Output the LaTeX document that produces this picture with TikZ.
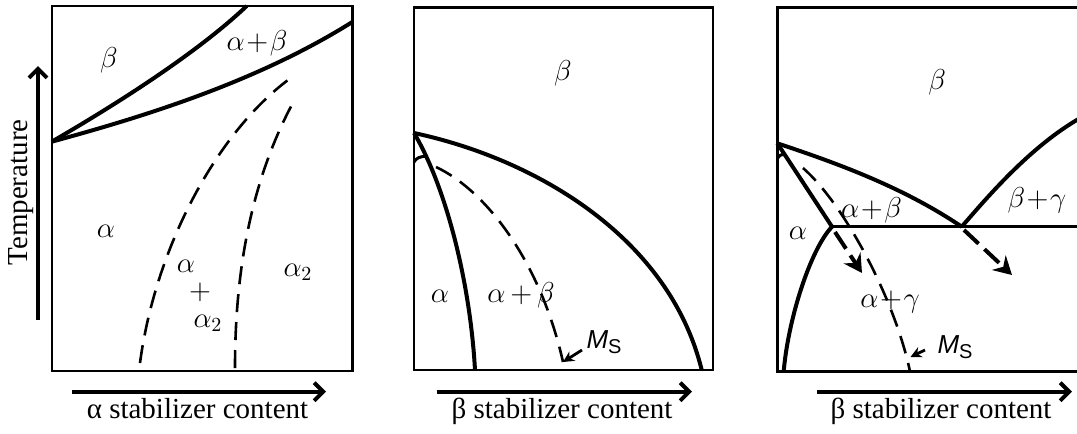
\documentclass[tikz,border=0pt]{standalone}
\usepackage{fontspec}
\setmainfont{Liberation Serif}
\newfontfamily\ssf{Liberation Sans}
\usetikzlibrary{arrows.meta}
\newcommand{\pl}{\mkern1mu{+}\mkern1mu}
\begin{document}
\begin{tikzpicture}[x=0.5pt,y=-0.5pt,
  frame/.style={line width=1.2pt},
  phase/.style={line width=2pt},
  thinphase/.style={line width=1.5pt},
  dsh/.style={line width=1.3pt, dash pattern=on 9pt off 5pt},
  axisarrow/.style={line width=2pt, -{Straight Barb[length=4.5pt,width=9pt]}},
  axislabel/.style={font=\fontsize{14.5}{17}\selectfont, anchor=base, inner sep=0pt},
  lbl/.style={font=\fontsize{14}{16}\selectfont, inner sep=0pt},
  mslbl/.style={font=\fontsize{13}{15}\ssf, inner sep=0pt},
  msarrow/.style={line width=1.4pt, -{Stealth[length=5.5pt,width=5.5pt]}},
  coolarrow/.style={line width=2pt, dash pattern=on 10pt off 4pt, -{Stealth[length=9pt,width=10pt,inset=3pt]}},
]
\useasboundingbox (0,0) rectangle (1077,434);
\clip (0,0) rectangle (1077,434);

% ---------- panel 1 ----------
\coordinate (p1tl) at (51.7,6);
\coordinate (p1br) at (352.3,370.7);
\draw[frame] (p1tl) rectangle (p1br);
\coordinate (p1j) at (51.7,141.7);
\coordinate (p1a) at (246.7,6);
\coordinate (p1b) at (352.3,22);
\draw[phase] (p1j) .. controls (110,108) and (195,55) .. (p1a);
\draw[phase] (p1j) .. controls (150,115) and (260,80) .. (p1b);
\coordinate (p1d1s) at (140,363);
\coordinate (p1d1e) at (288,80);
\draw[dsh] (p1d1s) .. controls (155,250) and (215,135) .. (p1d1e);
\coordinate (p1d2s) at (235,368);
\coordinate (p1d2e) at (295,99);
\draw[dsh] (p1d2s) .. controls (235,290) and (245,190) .. (p1d2e);
\coordinate (tb) at (38,320);
\coordinate (tt) at (38,66);
\draw[axisarrow] (tb) -- (tt);
\coordinate (x1s) at (72,391.7);
\coordinate (x1e) at (326,391.7);
\draw[axisarrow] (x1s) -- (x1e);
\node[font=\fontsize{14.5}{17}\selectfont, rotate=90, inner sep=0pt] (tlab) at (21,192.5) {Temperature};
\node[axislabel] (xl1) at (197.5,418) {α stabilizer content};
\node[lbl] (l1b) at (109,60) {$\beta$};
\node[lbl] (l1ab) at (257,43) {$\alpha\pl\beta$};
\node[lbl] (l1a) at (106,231) {$\alpha$};
\node[lbl] (l1m1) at (186,266) {$\alpha$};
\node[lbl] (l1m2) at (200,292) {$+$};
\node[lbl] (l1m3) at (208,323) {$\alpha_2$};
\node[lbl] (l1a2) at (298,272) {$\alpha_2$};

% ---------- panel 2 ----------
\coordinate (p2tl) at (414,7.3);
\coordinate (p2br) at (712.7,370);
\draw[frame] (p2tl) rectangle (p2br);
\coordinate (p2j) at (414,133);
\coordinate (p2e) at (701.7,370);
\draw[phase] (p2j) .. controls (540,160) and (670,240) .. (p2e);
\coordinate (p2a) at (475,370);
\draw[phase] (p2j) .. controls (445,185) and (470,280) .. (p2a);
\coordinate (p2s1) at (414,162);
\coordinate (p2s2) at (427,156);
\draw[thinphase] (p2s1) .. controls (416,158) and (420,156.5) .. (p2s2);
\coordinate (p2ds) at (436,167);
\coordinate (p2de) at (563,362);
\draw[dsh] (p2ds) .. controls (485,190) and (540,260) .. (p2de);
\coordinate (p2mt) at (582,350);
\draw[msarrow] (p2mt) -- (p2de);
\coordinate (x2s) at (436.7,391.7);
\coordinate (x2e) at (692,391.7);
\draw[axisarrow] (x2s) -- (x2e);
\node[axislabel] (xl2) at (562,418) {β stabilizer content};
\node[lbl] (l2b) at (563,73) {$\beta$};
\node[lbl] (l2a) at (440,296) {$\alpha$};
\node[lbl] (l2ab) at (521,295) {$\alpha\mkern3mu{+}\mkern3mu\beta$};
\node[mslbl] (l2ms) at (604,342) {\itshape M\raisebox{-0.4ex}{\upshape\fontsize{10}{11}\selectfont S}};

% ---------- panel 3 ----------
\coordinate (p3tl) at (777.3,7.3);
\coordinate (p3bl) at (777.3,371.5);
\coordinate (p3tr) at (1090,7.3);
\coordinate (p3brr) at (1090,371.5);
\draw[frame] (p3tr) -- (p3tl) -- (p3bl) -- (p3brr);
\coordinate (p3j) at (777.3,143.3);
\coordinate (p3eu) at (961.7,226.7);
\coordinate (p3k) at (832,226.7);
\coordinate (p3r) at (1082,117);
\coordinate (p3h) at (1090,226.7);
\draw[phase] (p3j) .. controls (830,161) and (900,185) .. (p3eu);
\draw[phase] (p3eu) .. controls (985,200) and (1030,146) .. (p3r);
\draw[thinphase] (p3k) -- (p3h);
\draw[phase] (p3j) -- (p3k);
\coordinate (p3ab) at (783.7,371.5);
\draw[phase] (p3k) .. controls (810,250) and (788,320) .. (p3ab);
\coordinate (p3s1) at (777.3,159);
\coordinate (p3s2) at (784.3,154);
\draw[thinphase] (p3s1) .. controls (779,155.5) and (781,154.3) .. (p3s2);
\coordinate (p3ds) at (803,168);
\coordinate (p3de) at (910,371.5);
\draw[dsh] (p3ds) .. controls (845,205) and (895,300) .. (p3de);
\coordinate (p3mt) at (925,350);
\coordinate (p3mh) at (910.5,357);
\draw[msarrow] (p3mt) -- (p3mh);
\coordinate (c1s) at (835,232);
\coordinate (c1e) at (862,273);
\draw[coolarrow] (c1s) -- (c1e);
\coordinate (c2s) at (964,230);
\coordinate (c2e) at (1012,275);
\draw[coolarrow] (c2s) -- (c2e);
\coordinate (x3s) at (817,391.7);
\coordinate (x3e) at (1072,391.7);
\draw[axisarrow] (x3s) -- (x3e);
\node[axislabel] (xl3) at (941,418) {β stabilizer content};
\node[lbl] (l3b) at (937,82) {$\beta$};
\node[lbl] (l3ab) at (871.5,210) {$\alpha\pl\beta$};
\node[lbl] (l3a) at (798,233) {$\alpha$};
\node[lbl] (l3bg) at (1037,200) {$\beta\pl\gamma$};
\node[lbl] (l3ag) at (890,302) {$\alpha\pl\gamma$};
\node[mslbl] (l3ms) at (955,347) {\itshape M\raisebox{-0.4ex}{\upshape\fontsize{10}{11}\selectfont S}};
\end{tikzpicture}
\end{document}
